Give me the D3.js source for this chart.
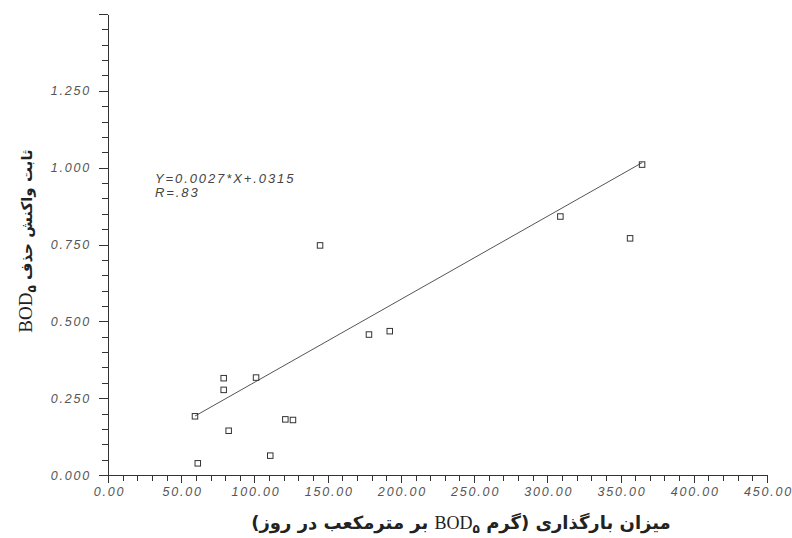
<!DOCTYPE html>
<html>
<head>
<meta charset="utf-8">
<script src="https://cdn.jsdelivr.net/npm/d3@7"></script>
<style>
  body { margin: 0; background: #fff; }
  svg { display: block; }
  .axis path, .axis line { stroke: #333; stroke-width: 1; shape-rendering: crispEdges; }
  .axis text {
    font-family: "Liberation Sans", Arial, sans-serif;
    font-style: italic; font-size: 12.5px; letter-spacing: 1.8px; fill: #555;
  }
  .fa { font-family: "DejaVu Sans", sans-serif; font-weight: bold; }
  .lat { font-family: "Liberation Serif", "Times New Roman", serif; font-weight: normal; }
</style>
</head>
<body>
<script>
// BOD5 loading (g BOD5 per m3 per day) and BOD5 removal rate constant
const loading   = [59.4, 61.3, 79.0, 79.0, 82.4, 101.1, 110.8, 121.1, 126.3, 144.8, 178.2, 192.4, 308.9, 356.5, 364.7];
const rateConst = [0.191, 0.038, 0.315, 0.277, 0.144, 0.317, 0.063, 0.181, 0.179, 0.747, 0.457, 0.468, 0.841, 0.770, 1.010];

// linear fit reported on the chart
const fitSlope = 0.0027;
const fitIntercept = 0.0315;
const fitR = 0.83;

// axis ticks
const xTickValues = [0, 50, 100, 150, 200, 250, 300, 350, 400, 450];
const xTickLabels = ["0.00", "50.00", "100.00", "150.00", "200.00", "250.00", "300.00", "350.00", "400.00", "450.00"];
const yTickValues = [0, 0.25, 0.5, 0.75, 1.0, 1.25, 1.5];
const yTickLabels = ["0.000", "0.250", "0.500", "0.750", "1.000", "1.250", ""];

// axis titles
const xTitleStart = "میزان بارگذاری (گرم ";
const xTitleEnd = " بر مترمکعب در روز)";
const yTitleStart = "ثابت واکنش حذف ";
const bodText = "BOD";
const bodSub = "۵";

const W = 792, H = 538;
const svg = d3.select("body").append("svg").attr("width", W).attr("height", H);

const x = d3.scaleLinear().domain([0, 450]).range([108, 767]);
const y = d3.scaleLinear().domain([0, 1.5]).range([475, 14]);

// minor ticks
const xMinor = d3.range(0, 451, 10).filter(v => v % 50 !== 0);
const yMinor = d3.range(0, 31).map(i => i * 0.05).filter(v => Math.abs(v / 0.25 - Math.round(v / 0.25)) > 1e-6);

svg.append("g").attr("class", "axis")
  .attr("transform", `translate(0,${y(0)})`)
  .call(d3.axisBottom(x).tickValues(xMinor).tickSize(6).tickSizeOuter(0).tickFormat(""));
svg.append("g").attr("class", "axis")
  .attr("transform", `translate(${x(0)},0)`)
  .call(d3.axisLeft(y).tickValues(yMinor).tickSize(6).tickSizeOuter(0).tickFormat(""));

const xAxis = svg.append("g").attr("class", "axis")
  .attr("transform", `translate(0,${y(0)})`)
  .call(d3.axisBottom(x).tickValues(xTickValues).tickSize(8).tickSizeOuter(0).tickPadding(4)
    .tickFormat((d, i) => xTickLabels[i]));
xAxis.selectAll("text").attr("dx", "1px");

svg.append("g").attr("class", "axis")
  .attr("transform", `translate(${x(0)},0)`)
  .call(d3.axisLeft(y).tickValues(yTickValues).tickSize(9).tickSizeOuter(0).tickPadding(8)
    .tickFormat((d, i) => yTickLabels[i]));

// regression line over the range of the data
const xr = d3.extent(loading);
svg.append("line")
  .attr("x1", x(xr[0])).attr("y1", y(fitSlope * xr[0] + fitIntercept))
  .attr("x2", x(xr[1])).attr("y2", y(fitSlope * xr[1] + fitIntercept))
  .attr("stroke", "#555").attr("stroke-width", 1);

// observations as open squares
const s = 5.5;
svg.append("g").selectAll("rect")
  .data(loading.map((v, i) => [v, rateConst[i]]))
  .join("rect")
  .attr("x", d => x(d[0]) - s / 2).attr("y", d => y(d[1]) - s / 2)
  .attr("width", s).attr("height", s)
  .attr("fill", "none").attr("stroke", "#333").attr("stroke-width", 1);

// fit equation
const eq = svg.append("text")
  .attr("font-family", "'Liberation Sans', Arial, sans-serif")
  .attr("font-style", "italic").attr("font-size", 13).attr("letter-spacing", "1.9px")
  .attr("fill", "#444");
eq.append("tspan").attr("x", 155).attr("y", 183)
  .text(`Y=${fitSlope}*X+${String(fitIntercept).replace(/^0/, "")}`);
eq.append("tspan").attr("x", 155).attr("y", 197)
  .text(`R=${String(fitR).replace(/^0/, "")}`);

// x axis title (right-to-left)
const xt = svg.append("text")
  .attr("x", 461).attr("y", 529)
  .attr("text-anchor", "middle").attr("direction", "rtl")
  .attr("fill", "#222").attr("font-size", 18);
xt.append("tspan").attr("class", "fa").text(xTitleStart);
xt.append("tspan").attr("class", "lat").attr("font-size", 18).text(bodText);
xt.append("tspan").attr("class", "fa").attr("font-size", 12).attr("dy", 4).text(bodSub);
xt.append("tspan").attr("class", "fa").attr("dy", -4).text(xTitleEnd);

// y axis title (right-to-left, rotated)
const yt = svg.append("text")
  .attr("transform", "translate(32,241) rotate(-90)")
  .attr("text-anchor", "middle").attr("direction", "rtl")
  .attr("fill", "#222").attr("font-size", 15);
yt.append("tspan").attr("class", "fa").text(yTitleStart);
yt.append("tspan").attr("class", "lat").attr("font-size", 19).text(bodText);
yt.append("tspan").attr("class", "fa").attr("font-size", 12).attr("dy", 4).text(bodSub);
</script>
</body>
</html>
